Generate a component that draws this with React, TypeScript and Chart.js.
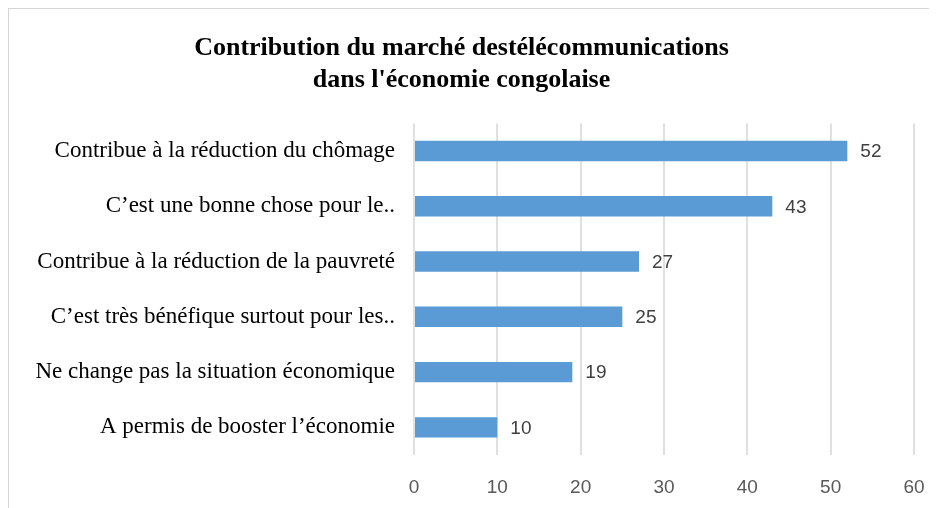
import React, { useEffect, useRef } from "react";
import { Chart, registerables } from "chart.js";

Chart.register(...registerables);

const titleLines = [
  "Contribution du marché destélécommunications",
  "dans l'économie congolaise",
];
const categories = [
  "Contribue à la réduction du chômage",
  "C’est une bonne chose pour le..",
  "Contribue à la réduction de la pauvreté",
  "C’est très bénéfique surtout pour les..",
  "Ne change pas la situation économique",
  "A permis de booster l’économie",
];
const values = [52, 43, 27, 25, 19, 10];
const xMin = 0;
const xMax = 60;
const xStep = 10;

const dataLabelPlugin = {
  id: "dataLabels",
  afterDatasetsDraw(chart: any) {
    const ctx = chart.ctx;
    const meta = chart.getDatasetMeta(0);
    ctx.save();
    ctx.font = "19px 'Liberation Sans', Arial, sans-serif";
    ctx.fillStyle = "#404040";
    ctx.textAlign = "left";
    ctx.textBaseline = "middle";
    meta.data.forEach((bar: any, i: number) => {
      ctx.fillText(String(values[i]), bar.x + 13, bar.y + 1);
    });
    ctx.restore();
  },
};

export default function App() {
  const ref = useRef<HTMLCanvasElement | null>(null);
  useEffect(() => {
    if (!ref.current) return;
    const chart = new Chart(ref.current, {
      type: "bar",
      data: {
        labels: categories,
        datasets: [
          {
            data: values,
            backgroundColor: "#5b9bd5",
            borderWidth: 0,
            categoryPercentage: 1,
            barPercentage: 0.37,
          },
        ],
      },
      options: {
        indexAxis: "y",
        animation: false,
        responsive: false,
        maintainAspectRatio: false,
        layout: { padding: { left: 0, right: 35, top: 0, bottom: 0 } },
        plugins: {
          legend: { display: false },
          tooltip: { enabled: false },
          title: {
            display: true,
            text: titleLines,
            color: "#000000",
            font: { family: "'Liberation Serif', 'Times New Roman', serif", size: 26, weight: "bold", lineHeight: 1.2 },
            padding: { top: 24, bottom: 28 },
          },
        },
        scales: {
          x: {
            min: xMin,
            max: xMax,
            ticks: {
              stepSize: xStep,
              color: "#595959",
              font: { family: "'Liberation Sans', Arial, sans-serif", size: 19 },
              padding: 21,
            },
            grid: { color: "#e0e0e0", lineWidth: 2, drawTicks: false },
            border: { display: false },
            afterFit: (scale: any) => {
              scale.height = 53;
            },
          },
          y: {
            ticks: {
              color: "#000000",
              font: { family: "'Liberation Serif', 'Times New Roman', serif", size: 23 },
              padding: 19,
            },
            grid: { display: false, drawTicks: false },
            border: { display: false },
            afterFit: (scale: any) => {
              scale.width = 405;
            },
          },
        },
      },
      plugins: [dataLabelPlugin],
    });
    return () => chart.destroy();
  }, []);

  return (
    <div
      style={{
        borderTop: "1px solid #d6d6d6",
        borderLeft: "1px solid #d6d6d6",
        width: 928,
        height: 499,
        overflow: "hidden",
        background: "#ffffff",
      }}
    >
      <canvas ref={ref} width={940} height={499} style={{ display: "block" }} />
    </div>
  );
}
